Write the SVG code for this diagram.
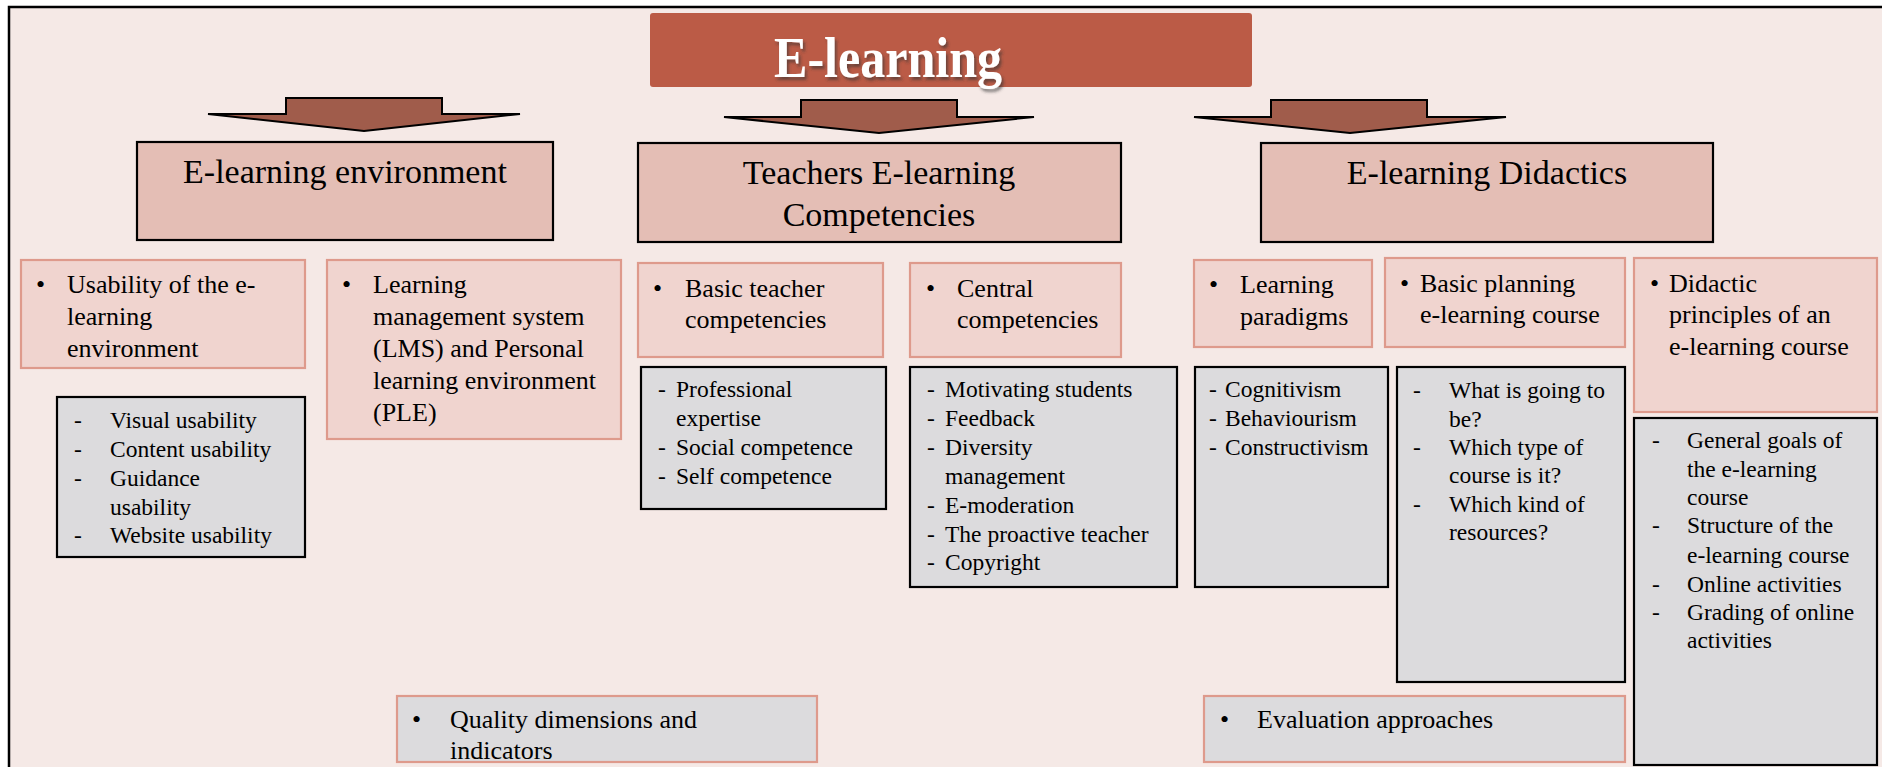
<svg xmlns="http://www.w3.org/2000/svg" width="1882" height="767" viewBox="0 0 1882 767">
<style>
.hdr{fill:#E4BEB5;stroke:#000;stroke-width:2.2}
.sub{fill:#F0D4CF;stroke:#DE9A8C;stroke-width:2.2}
.gry{fill:#DCDBDD;stroke:#000;stroke-width:2.2}
.bot{fill:#DCDBDD;stroke:#DE9A8C;stroke-width:2.2}
.arrow{fill:#A05C4B;stroke:#000;stroke-width:2;stroke-linejoin:miter}
text{font-family:"Liberation Serif","Times New Roman",serif;fill:#000}
.t34{font-size:34px}
.t26{font-size:26px}
.t24{font-size:23.5px}
.title{font-size:58px;font-weight:bold;fill:#fff}
</style>
<defs>
<filter id="sh" x="-10%" y="-10%" width="130%" height="140%">
<feDropShadow dx="2" dy="3" stdDeviation="1.5" flood-color="#333" flood-opacity="0.6"/>
</filter>
</defs>
<rect x="0" y="0" width="1882" height="767" fill="#fff"/>
<rect x="9" y="7" width="1885" height="775" fill="#F5E9E6" stroke="#000" stroke-width="2.5"/>

<g id="title">
<rect x="650" y="13" width="602" height="74" rx="3" fill="#BB5B46"/>
<text class="title" x="774" y="77" textLength="228" lengthAdjust="spacingAndGlyphs" filter="url(#sh)">E-learning</text>
</g>

<g id="connectors">
<path class="arrow" d="M286,114 L286,98 L442,98 L442,114 L520,114 L364,131 L208,114 Z"/>
<path class="arrow" d="M801,117 L801,100 L957,100 L957,117 L1034,117 L879,133 L724,117 Z"/>
<path class="arrow" d="M1271,117 L1271,100 L1427,100 L1427,117 L1506,117 L1350,133 L1194,117 Z"/>
</g>

<g id="hdr-env">
<rect class="hdr" x="137" y="142" width="416" height="98"/>
<text class="t34" x="345" y="183" text-anchor="middle">E-learning environment</text>
</g>
<g id="hdr-teach">
<rect class="hdr" x="638" y="143" width="483" height="99"/>
<text class="t34" x="879" y="184" text-anchor="middle">Teachers E-learning</text>
<text class="t34" x="879" y="226" text-anchor="middle">Competencies</text>
</g>
<g id="hdr-did">
<rect class="hdr" x="1261" y="143" width="452" height="99"/>
<text class="t34" x="1487" y="184" text-anchor="middle">E-learning Didactics</text>
</g>

<g id="sub-usab">
<rect class="sub" x="21" y="260" width="284" height="108"/>
<text class="t26" x="36" y="293">•</text>
<text class="t26"><tspan x="67" y="293">Usability of the e-</tspan><tspan x="67" y="325">learning</tspan><tspan x="67" y="357">environment</tspan></text>
</g>
<g id="sub-lms">
<rect class="sub" x="327" y="260" width="294" height="179"/>
<text class="t26" x="342" y="293">•</text>
<text class="t26"><tspan x="373" y="293">Learning</tspan><tspan x="373" y="325">management system</tspan><tspan x="373" y="357">(LMS) and Personal</tspan><tspan x="373" y="389">learning environment</tspan><tspan x="373" y="421">(PLE)</tspan></text>
</g>
<g id="sub-basic">
<rect class="sub" x="638" y="263" width="245" height="94"/>
<text class="t26" x="653" y="297">•</text>
<text class="t26"><tspan x="685" y="297">Basic teacher</tspan><tspan x="685" y="328">competencies</tspan></text>
</g>
<g id="sub-central">
<rect class="sub" x="910" y="263" width="211" height="94"/>
<text class="t26" x="926" y="297">•</text>
<text class="t26"><tspan x="957" y="297">Central</tspan><tspan x="957" y="328">competencies</tspan></text>
</g>
<g id="sub-paradigms">
<rect class="sub" x="1194" y="260" width="178" height="87"/>
<text class="t26" x="1209" y="293">•</text>
<text class="t26"><tspan x="1240" y="293">Learning</tspan><tspan x="1240" y="325">paradigms</tspan></text>
</g>
<g id="sub-planning">
<rect class="sub" x="1385" y="258" width="240" height="89"/>
<text class="t26" x="1400" y="292">•</text>
<text class="t26"><tspan x="1420" y="292">Basic planning</tspan><tspan x="1420" y="323">e-learning course</tspan></text>
</g>
<g id="sub-principles">
<rect class="sub" x="1634" y="258" width="243" height="154"/>
<text class="t26" x="1650" y="292">•</text>
<text class="t26"><tspan x="1669" y="292">Didactic</tspan><tspan x="1669" y="323">principles of an</tspan><tspan x="1669" y="355">e-learning course</tspan></text>
</g>

<g id="list-usab">
<rect class="gry" x="57" y="397" width="248" height="160"/>
<text class="t24"><tspan x="74" y="428">-</tspan><tspan x="74" y="457">-</tspan><tspan x="74" y="486">-</tspan><tspan x="74" y="543">-</tspan></text>
<text class="t24"><tspan x="110" y="428">Visual usability</tspan><tspan x="110" y="457">Content usability</tspan><tspan x="110" y="486">Guidance</tspan><tspan x="110" y="515">usability</tspan><tspan x="110" y="543">Website usability</tspan></text>
</g>
<g id="list-basic">
<rect class="gry" x="641" y="367" width="245" height="142"/>
<text class="t24"><tspan x="658" y="397">-</tspan><tspan x="658" y="455">-</tspan><tspan x="658" y="484">-</tspan></text>
<text class="t24"><tspan x="676" y="397">Professional</tspan><tspan x="676" y="426">expertise</tspan><tspan x="676" y="455">Social competence</tspan><tspan x="676" y="484">Self competence</tspan></text>
</g>
<g id="list-central">
<rect class="gry" x="910" y="367" width="267" height="220"/>
<text class="t24"><tspan x="927" y="397">-</tspan><tspan x="927" y="426">-</tspan><tspan x="927" y="455">-</tspan><tspan x="927" y="513">-</tspan><tspan x="927" y="542">-</tspan><tspan x="927" y="570">-</tspan></text>
<text class="t24"><tspan x="945" y="397">Motivating students</tspan><tspan x="945" y="426">Feedback</tspan><tspan x="945" y="455">Diversity</tspan><tspan x="945" y="484">management</tspan><tspan x="945" y="513">E-moderation</tspan><tspan x="945" y="542">The proactive teacher</tspan><tspan x="945" y="570">Copyright</tspan></text>
</g>
<g id="list-paradigms">
<rect class="gry" x="1195" y="367" width="193" height="220"/>
<text class="t24"><tspan x="1209" y="397">-</tspan><tspan x="1209" y="426">-</tspan><tspan x="1209" y="455">-</tspan></text>
<text class="t24"><tspan x="1225" y="397">Cognitivism</tspan><tspan x="1225" y="426">Behaviourism</tspan><tspan x="1225" y="455">Constructivism</tspan></text>
</g>
<g id="list-planning">
<rect class="gry" x="1397" y="367" width="228" height="315"/>
<text class="t24"><tspan x="1413" y="398">-</tspan><tspan x="1413" y="455">-</tspan><tspan x="1413" y="512">-</tspan></text>
<text class="t24"><tspan x="1449" y="398">What is going to</tspan><tspan x="1449" y="427">be?</tspan><tspan x="1449" y="455">Which type of</tspan><tspan x="1449" y="483">course is it?</tspan><tspan x="1449" y="512">Which kind of</tspan><tspan x="1449" y="540">resources?</tspan></text>
</g>
<g id="list-principles">
<rect class="gry" x="1634" y="418" width="243" height="347"/>
<text class="t24"><tspan x="1652" y="448">-</tspan><tspan x="1652" y="533">-</tspan><tspan x="1652" y="592">-</tspan><tspan x="1652" y="620">-</tspan></text>
<text class="t24"><tspan x="1687" y="448">General goals of</tspan><tspan x="1687" y="477">the e-learning</tspan><tspan x="1687" y="505">course</tspan><tspan x="1687" y="533">Structure of the</tspan><tspan x="1687" y="563">e-learning course</tspan><tspan x="1687" y="592">Online activities</tspan><tspan x="1687" y="620">Grading of online</tspan><tspan x="1687" y="648">activities</tspan></text>
</g>

<g id="quality">
<rect class="bot" x="397" y="696" width="420" height="66"/>
<text class="t26" x="412" y="728">•</text>
<text class="t26"><tspan x="450" y="728">Quality dimensions and</tspan><tspan x="450" y="759">indicators</tspan></text>
</g>
<g id="evaluation">
<rect class="bot" x="1204" y="696" width="421" height="66"/>
<text class="t26" x="1220" y="728">•</text>
<text class="t26" x="1257" y="728">Evaluation approaches</text>
</g>
</svg>
